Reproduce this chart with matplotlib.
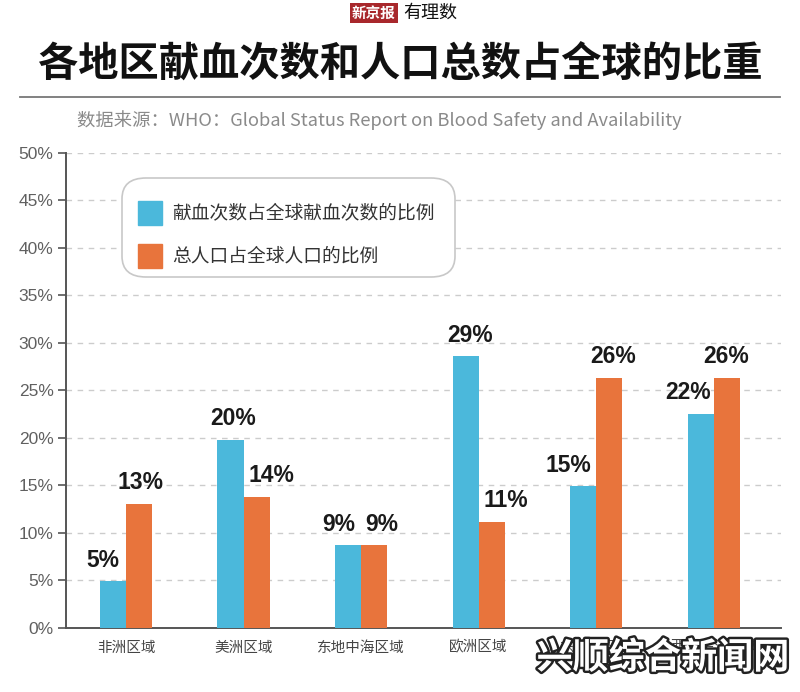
import matplotlib.pyplot as plt
import matplotlib.patheffects as pe
from matplotlib.patches import FancyBboxPatch, Rectangle
import numpy as np

plt.rcParams['font.family'] = ['Noto Sans CJK SC', 'DejaVu Sans']

regions = ['非洲区域', '美洲区域', '东地中海区域', '欧洲区域', '东南亚区域', '西太平洋区域']
blood = [4.9, 19.8, 8.7, 28.6, 14.9, 22.5]
population = [13.1, 13.8, 8.7, 11.2, 26.3, 26.3]
blood_labels = ['5%', '20%', '9%', '29%', '15%', '22%']
pop_labels = ['13%', '14%', '9%', '11%', '26%', '26%']
yticks = [0, 5, 10, 15, 20, 25, 30, 35, 40, 45, 50]

# label nudges in pixels (the original has hand-placed labels)
blood_dx = [-10, 3, -9, 4, -15, -13]
pop_dx = [1, 15, 8, 14, 4, -1]

blue = '#4bb8db'
orange = '#e8743c'

fig = plt.figure(figsize=(8, 6.92), dpi=100)
ax = fig.add_axes([0.0825, 0.0925, 0.8935, 0.6865])

x = np.arange(len(regions))
w = 0.222
b1 = ax.bar(x - w / 2, blood, w, color=blue, zorder=3)
b2 = ax.bar(x + w / 2, population, w, color=orange, zorder=3)

for bars, labels, dxs in [(b1, blood_labels, blood_dx), (b2, pop_labels, pop_dx)]:
    for bar, lab, dx in zip(bars, labels, dxs):
        ax.annotate(lab, (bar.get_x() + bar.get_width() / 2, bar.get_height()),
                    xytext=(dx * 0.72, 7), textcoords='offset points',
                    ha='center', va='bottom', fontsize=16.5, fontweight='bold',
                    family='Liberation Sans', color='#1a1a1a', zorder=5)

ax.set_xlim(-0.51, 5.57)
ax.set_ylim(0, 50)
ax.set_yticks(yticks)
ax.set_yticklabels([f'{t}%' for t in yticks], family='Liberation Sans',
                   fontsize=12.5, color='#606060')
ax.set_xticks(x)
ax.set_xticklabels(regions, fontsize=10.5, color='#444444')
ax.tick_params(axis='x', length=0, pad=9)
ax.tick_params(axis='y', length=6, width=1.2, color='#555555', pad=3)
ax.yaxis.grid(True, linestyle=(0, (4, 4)), color='#cccccc', linewidth=1, zorder=0)
for s in ['top', 'right']:
    ax.spines[s].set_visible(False)
ax.spines['left'].set_color('#555555')
ax.spines['bottom'].set_color('#555555')
ax.spines['left'].set_linewidth(1.4)
ax.spines['bottom'].set_linewidth(1.4)

# legend box
box = FancyBboxPatch((122 / 800, 1 - 277 / 692), 333 / 800, 99 / 692,
                     boxstyle='round,pad=0,rounding_size=0.03',
                     transform=fig.transFigure, facecolor='white',
                     edgecolor='#c8c8c8', linewidth=1.2, zorder=10)
fig.patches.append(box)
fig.patches.append(Rectangle((138 / 800, 1 - 225 / 692), 24 / 800, 24 / 692,
                             transform=fig.transFigure, color=blue, zorder=11))
fig.patches.append(Rectangle((138 / 800, 1 - 268 / 692), 24 / 800, 24 / 692,
                             transform=fig.transFigure, color=orange, zorder=11))
fig.text(172 / 800, 1 - 213 / 692, '献血次数占全球献血次数的比例', fontsize=13.5,
         color='#333333', va='center', zorder=12)
fig.text(172 / 800, 1 - 256 / 692, '总人口占全球人口的比例', fontsize=13.5,
         color='#333333', va='center', zorder=12)

# header
fig.text(0.5, 1 - 65 / 692, '各地区献血次数和人口总数占全球的比重', fontsize=29,
         fontweight='bold', ha='center', va='center', color='#111111')
fig.add_artist(plt.Line2D([20 / 800, 780 / 800], [1 - 97 / 692, 1 - 97 / 692],
                          color='#777777', linewidth=1.3))
fig.text(379 / 800, 1 - 120 / 692,
         '数据来源：WHO：Global Status Report on Blood Safety and Availability',
         fontsize=13.2, ha='center', va='center', color='#8a8a8a')
fig.text(374 / 800, 1 - 13 / 692, '新京报', fontsize=10.5, fontweight='bold',
         color='white', ha='center', va='center',
         bbox=dict(boxstyle='square,pad=0.12', facecolor='#a8282c', edgecolor='none'))
fig.text(403 / 800, 1 - 13 / 692, '有理数', fontsize=13, style='italic',
         color='#111111', ha='left', va='center')

# site watermark
fig.text(663 / 800, 1 - 658 / 692, '兴顺综合新闻网', fontsize=26, fontweight='bold',
         color='white', ha='center', va='center', zorder=20,
         path_effects=[pe.withStroke(linewidth=3.5, foreground='#222222')])

fig.savefig('out.png', dpi=100, facecolor='white')
